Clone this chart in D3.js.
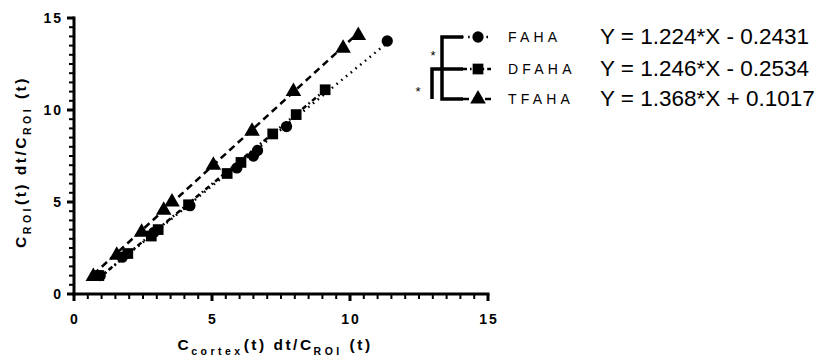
<!DOCTYPE html>
<html lang="en">
  <head>
    <meta charset="utf-8" />
    <script src="https://d3js.org/d3.v7.min.js"></script>
    <style>
      body { margin: 0; background: #fff; }
      text { font-family: "Liberation Sans", Arial, sans-serif; fill: #000; }
    </style>
  </head>
  <body>
    <svg id="chart" width="834" height="360"></svg>
    <script>
    // data
    var fahaX = [0.95, 1.75, 2.9, 4.2, 5.9, 6.5, 6.65, 7.7, 11.35];
    var fahaY = [1.0, 2.0, 3.35, 4.8, 6.85, 7.5, 7.8, 9.1, 13.75];
    var dfahaX = [0.9, 1.95, 2.8, 3.05, 4.15, 5.55, 6.05, 7.2, 8.05, 9.1];
    var dfahaY = [1.0, 2.2, 3.15, 3.5, 4.85, 6.55, 7.15, 8.7, 9.75, 11.1];
    var tfahaX = [0.7, 1.55, 2.45, 3.25, 3.55, 5.05, 6.45, 7.95, 9.75, 10.3];
    var tfahaY = [0.95, 2.1, 3.35, 4.55, 5.0, 7.0, 8.85, 11.0, 13.35, 14.05];
    var seriesNames = ["FAHA", "DFAHA", "TFAHA"];
    var slopes = [1.224, 1.246, 1.368];
    var intercepts = [-0.2431, -0.2534, 0.1017];
    var equations = ["Y = 1.224*X - 0.2431", "Y = 1.246*X - 0.2534", "Y = 1.368*X + 0.1017"];
    var majorTicks = [0, 5, 10, 15];

    var svg = d3.select("#chart");

    var x = d3.scaleLinear().domain([0, 15]).range([74, 488]);
    var y = d3.scaleLinear().domain([0, 15]).range([294, 18]);

    var series = [
      { name: seriesNames[0], xs: fahaX, ys: fahaY, sym: d3.symbolCircle, size: 100, dash: "1.6,4.5" },
      { name: seriesNames[1], xs: dfahaX, ys: dfahaY, sym: d3.symbolSquare, size: 115, dash: "5,3,1.6,3" },
      { name: seriesNames[2], xs: tfahaX, ys: tfahaY, sym: d3.symbolTriangle, size: 105, dash: "7,4.5" }
    ];

    // minor ticks every 0.5
    var minor = d3.range(0, 15.01, 0.5).filter(function(v){ return v % 5 !== 0; });

    // x axis
    var xAxis = svg.append("g").attr("transform", "translate(0,294)");
    xAxis.append("line").attr("x1", x(0) - 1.5).attr("x2", x(15) + 1.5)
      .attr("stroke", "#000").attr("stroke-width", 3);
    xAxis.selectAll(".mj").data(majorTicks).enter().append("line")
      .attr("x1", x).attr("x2", x).attr("y1", 0).attr("y2", 7)
      .attr("stroke", "#000").attr("stroke-width", 3);
    xAxis.selectAll(".mn").data(minor).enter().append("line")
      .attr("x1", x).attr("x2", x).attr("y1", 0).attr("y2", 5)
      .attr("stroke", "#000").attr("stroke-width", 2);
    xAxis.selectAll("text").data(majorTicks).enter().append("text")
      .attr("x", function(d){ return x(d) + 1; }).attr("y", 30)
      .attr("text-anchor", "middle")
      .style("font-size", "14px").style("font-weight", "bold").style("letter-spacing", "2px")
      .text(function(d){ return d; });

    // y axis
    var yAxis = svg.append("g").attr("transform", "translate(74,0)");
    yAxis.append("line").attr("y1", y(0) + 1.5).attr("y2", y(15) - 1.5)
      .attr("stroke", "#000").attr("stroke-width", 3);
    yAxis.selectAll(".mj").data(majorTicks).enter().append("line")
      .attr("y1", y).attr("y2", y).attr("x1", 0).attr("x2", -7)
      .attr("stroke", "#000").attr("stroke-width", 3);
    yAxis.selectAll(".mn").data(minor).enter().append("line")
      .attr("y1", y).attr("y2", y).attr("x1", 0).attr("x2", -5)
      .attr("stroke", "#000").attr("stroke-width", 2);
    yAxis.selectAll("text").data(majorTicks).enter().append("text")
      .attr("x", -11).attr("y", function(d){ return y(d) + 5; })
      .attr("text-anchor", "end")
      .style("font-size", "14px").style("font-weight", "bold").style("letter-spacing", "2px")
      .text(function(d){ return d; });

    // axis titles with subscripts
    function title(g, parts) {
      var t = g.append("text").style("font-weight", "bold").attr("text-anchor", "middle");
      parts.forEach(function(p){
        t.append("tspan")
          .style("font-size", p[1] ? "10.5px" : "15.5px")
          .style("letter-spacing", p[1] ? "3.5px" : "2.5px")
          .attr("dy", p[1] ? 5 : (p[2] ? -5 : 0))
          .text(p[0]);
      });
      return t;
    }
    title(svg.append("g").attr("transform", "translate(275,350)"),
      [["C"], ["cortex", true], ["(t) dt/C", false, true], ["ROI", true], [" (t)", false, true]]);
    title(svg.append("g").attr("transform", "translate(26,162) rotate(-90)"),
      [["C"], ["ROI", true], ["(t) dt/C", false, true], ["ROI", true], [" (t)", false, true]]);

    // regression lines
    var line = d3.line().x(function(d){ return x(d[0]); }).y(function(d){ return y(d[1]); });
    series.forEach(function(s, i){
      var x0 = d3.min(s.xs), x1 = d3.max(s.xs);
      svg.append("path")
        .attr("d", line([[x0, slopes[i] * x0 + intercepts[i]], [x1, slopes[i] * x1 + intercepts[i]]]))
        .attr("fill", "none").attr("stroke", "#000").attr("stroke-width", 2.5)
        .attr("stroke-dasharray", s.dash);
    });

    // points
    series.forEach(function(s){
      svg.append("g").selectAll("path").data(s.xs).enter().append("path")
        .attr("transform", function(d, j){ return "translate(" + x(d) + "," + y(s.ys[j]) + ")"; })
        .attr("d", d3.symbol().type(s.sym).size(s.size))
        .attr("fill", "#000");
    });

    // legend
    var rows = [37, 69, 99];
    var leg = svg.append("g");
    series.forEach(function(s, i){
      leg.append("line").attr("x1", 462).attr("x2", 491).attr("y1", rows[i]).attr("y2", rows[i])
        .attr("stroke", "#000").attr("stroke-width", 2.5).attr("stroke-dasharray", s.dash);
      leg.append("path").attr("transform", "translate(478," + rows[i] + ")")
        .attr("d", d3.symbol().type(s.sym).size(s.size)).attr("fill", "#000");
      leg.append("text").attr("x", 508).attr("y", rows[i] + 5)
        .style("font-size", "14px").style("letter-spacing", "4.2px").text(s.name);
      leg.append("text").attr("x", 600).attr("y", rows[i] + 7)
        .style("font-size", "22.5px").text(equations[i]);
    });

    // significance brackets
    var bk = svg.append("g").attr("stroke", "#000").attr("stroke-width", 3.5).attr("fill", "none");
    bk.append("path").attr("d", "M463," + rows[0] + "H442V" + rows[2] + "H463");
    bk.append("path").attr("d", "M463," + rows[1] + "H432V" + rows[2]);
    svg.append("text").attr("x", 433).attr("y", 60).attr("text-anchor", "middle")
      .style("font-size", "13px").text("*");
    svg.append("text").attr("x", 418).attr("y", 96).attr("text-anchor", "middle")
      .style("font-size", "13px").text("*");
    </script>
  </body>
</html>
